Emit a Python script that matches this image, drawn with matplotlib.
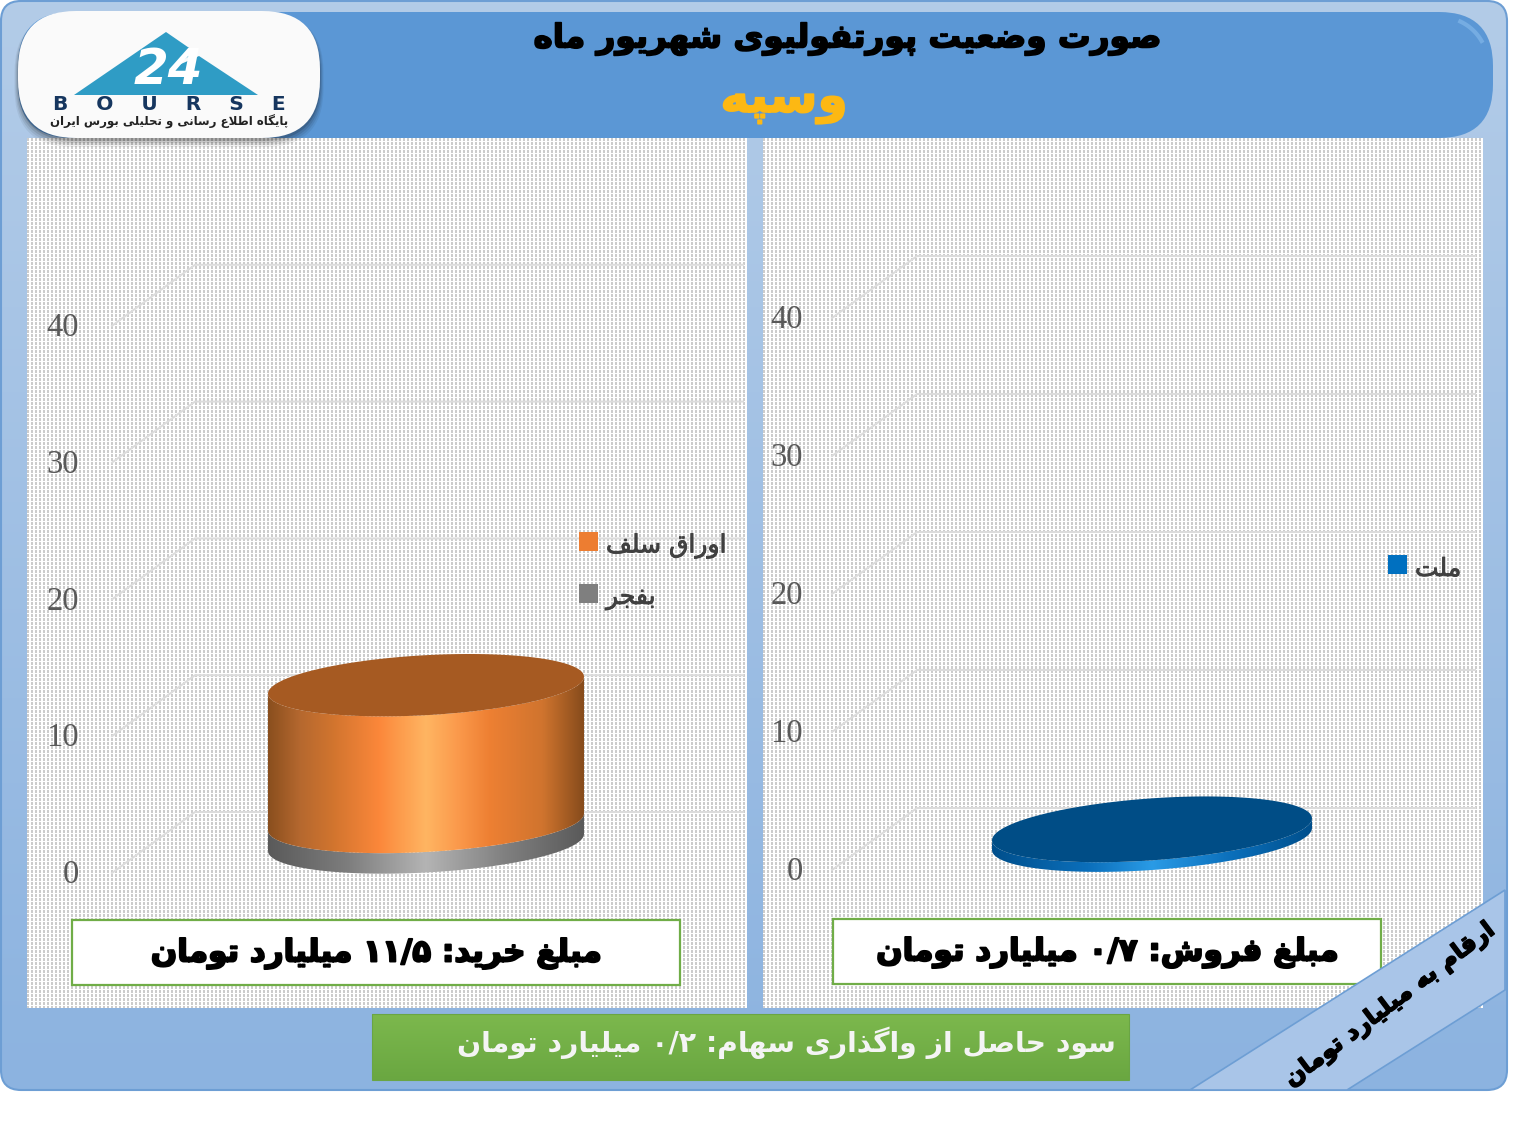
#!/usr/bin/env python3
"""Portfolio status slide: two stacked 3D cylinders (buy / sell) with Persian captions."""

import re

import matplotlib
matplotlib.use("Agg")
import matplotlib.patheffects as pe
import matplotlib.pyplot as plt
import numpy as np
from matplotlib.colors import LinearSegmentedColormap
from matplotlib.patches import FancyBboxPatch, Polygon, Rectangle

W, H = 1532, 1124

TICKS = [0, 10, 20, 30, 40]
BUY_LABELS = ["بفجر", "اوراق سلف"]
BUY_VALUES = [1.5, 10.0]
SELL_LABELS = ["ملت"]
SELL_VALUES = [0.7]

TITLE = "صورت وضعیت پورتفولیوی شهریور ماه"
FUND = "وسپه"
BUY_TEXT = "مبلغ خرید: ۱۱/۵ میلیارد تومان"
SELL_TEXT = "مبلغ فروش: ۰/۷ میلیارد تومان"
PROFIT_TEXT = "سود حاصل از واگذاری سهام: ۰/۲ میلیارد تومان"
UNIT_TEXT = "ارقام به میلیارد تومان"
LOGO_TEXT = "پایگاه اطلاع رسانی و تحلیلی بورس ایران"

# first presentation form of each letter: iso, fin, ini, med follow in order
JOINING = {
    "ب": 0xFE8F, "ت": 0xFE95, "ج": 0xFE9D, "ح": 0xFEA1, "خ": 0xFEA5, "س": 0xFEB1,
    "ش": 0xFEB5, "ص": 0xFEB9, "ض": 0xFEBD, "ط": 0xFEC1, "ع": 0xFEC9, "غ": 0xFECD,
    "ف": 0xFED1, "ق": 0xFED5, "ک": 0xFB8E, "ل": 0xFEDD, "م": 0xFEE1, "ن": 0xFEE5,
    "ه": 0xFEE9, "ی": 0xFBFC, "پ": 0xFB56, "گ": 0xFB92,
}
RIGHT_ONLY = {
    "ا": 0xFE8D, "د": 0xFEA9, "ذ": 0xFEAB, "ر": 0xFEAD, "ز": 0xFEAF, "و": 0xFEED,
}


def shape(text):
    """Join Persian letters and return them in visual order (matplotlib does neither)."""
    out = []
    i = 0
    prev_joins = False
    while i < len(text):
        c = text[i]
        nxt = text[i + 1] if i + 1 < len(text) else ""
        if c == "ل" and nxt == "ا":
            out.append(chr(0xFEFC if prev_joins else 0xFEFB))
            prev_joins = False
            i += 2
            continue
        if c in JOINING:
            joins_next = nxt in JOINING or nxt in RIGHT_ONLY
            form = {(False, False): 0, (True, False): 1, (False, True): 2, (True, True): 3}[
                (prev_joins, joins_next)]
            out.append(chr(JOINING[c] + form))
            prev_joins = joins_next
        elif c in RIGHT_ONLY:
            out.append(chr(RIGHT_ONLY[c] + (1 if prev_joins else 0)))
            prev_joins = False
        else:
            out.append(c)
            prev_joins = False
        i += 1
    visual = "".join(out)[::-1]
    # numbers keep their left-to-right order
    return re.sub(r"[۰-۹/]+", lambda m: m.group(0)[::-1], visual)


ORANGE = LinearSegmentedColormap.from_list("orange", [
    (0, "#8a4f1e"), (0.1, "#b5682f"), (0.2, "#d0742e"), (0.35, "#fb873a"), (0.5, "#ffb562"),
    (0.6, "#fb9a4c"), (0.7, "#ee8033"), (0.87, "#d0742e"), (1, "#874c1c")])
GREY = LinearSegmentedColormap.from_list("grey", [
    (0, "#5a5a5a"), (0.25, "#7d7d7d"), (0.5, "#b4b4b4"), (0.75, "#808080"), (1, "#5a5a5a")])
BLUE = LinearSegmentedColormap.from_list("blue", [
    (0, "#004f8c"), (0.3, "#0b6fbb"), (0.5, "#2a9be6"), (0.75, "#0b6fbb"), (1, "#004f8c")])


def cylinder(ax, cx, a, b, k, v0, v1, cmap, top=None):
    t = np.linspace(0, np.pi, 80)
    x = cx + a * np.cos(t)
    low = v0 + k * np.cos(t) - b * np.sin(t)
    up = v1 + k * np.cos(t) - b * np.sin(t)
    side = Polygon(np.r_[np.c_[x, low], np.c_[x, up][::-1]], closed=True,
                   transform=ax.transData, fc="none", ec="none")
    ax.add_patch(side)
    grad = np.linspace(0, 1, 256)[None, :]
    im = ax.imshow(grad, cmap=cmap, aspect="auto", zorder=3,
                   extent=(cx - a, cx + a, v0 - 2 * b, v1 + 2 * b))
    im.set_clip_path(side)
    if top:
        tt = np.linspace(0, 2 * np.pi, 160)
        ax.add_patch(Polygon(np.c_[cx + a * np.cos(tt), v1 + k * np.cos(tt) - b * np.sin(tt)],
                             closed=True, fc=top, ec="none", zorder=4))


def panel(rect, y0, px_per_unit, x_front, x_back, x_end, tick_x, tick_dy, depth):
    """Chart axes over a pixel rectangle: x stays in pixels, y is in billions of tomans."""
    left, top, right, bottom = rect
    ax = fig.add_axes([left / W, 1 - bottom / H, (right - left) / W, (bottom - top) / H])
    ax.set_xlim(left, right)
    ax.set_ylim((y0 - bottom) / px_per_unit, (y0 - top) / px_per_unit)
    ax.axis("off")
    ax.patch.set_alpha(0)
    d = depth / px_per_unit
    for v in TICKS:
        ax.plot([x_front, x_back, x_end], [v - d, v + d, v + d], color="#dcdcdc", lw=1.4,
                solid_joinstyle="miter", zorder=2)
        ax.text(tick_x, v - d - tick_dy / px_per_unit, str(v), ha="right", va="center",
                family="Liberation Serif", fontsize=23.5, color="#595959", zorder=2)
    ax.set_xlim(left, right)
    ax.set_ylim((y0 - bottom) / px_per_unit, (y0 - top) / px_per_unit)
    return ax


def heavy(width):
    return [pe.withStroke(linewidth=width, foreground="black")]


fig = plt.figure(figsize=(W / 100, H / 100), dpi=100, facecolor="white")

# background layer
bg = fig.add_axes([0, 0, 1, 1])
bg.set_xlim(0, W)
bg.set_ylim(H, 0)
bg.axis("off")

frame = FancyBboxPatch((1, 1), 1506, 1089, boxstyle="round,pad=0,rounding_size=20",
                       fc="none", ec="#6d9ed4", lw=1.5, zorder=2)
bg.add_patch(frame)
shade = bg.imshow(np.linspace(0, 1, 256)[:, None],
                  cmap=LinearSegmentedColormap.from_list("frame", ["#b3cce8", "#8cb3e0"]),
                  extent=(0, 1508, 1090, 0), aspect="auto", zorder=1)
shade.set_clip_path(frame)

yy, xx = np.mgrid[0:870, 0:720]
dots = 1.0 - 0.2 * ((xx % 4 < 2) & (yy % 4 != 3))
for px0, px1 in [(27, 747), (763, 1483)]:
    bg.imshow(dots, cmap="gray", vmin=0, vmax=1, interpolation="nearest",
              extent=(px0, px1, 1008, 138), aspect="auto", zorder=3)
bg.set_xlim(0, W)
bg.set_ylim(H, 0)

# buy chart
buy = panel((27, 138, 747, 1008), 842.5, 13.68, 112, 195, 743, 79, 2, 30.5)
base = 0.0
for i, (val, cmap) in enumerate(zip(BUY_VALUES, [GREY, ORANGE])):
    cylinder(buy, 426, 158, 30 / 13.68, 8.5 / 13.68, base, base + val, cmap,
             "#a65a22" if i == len(BUY_VALUES) - 1 else None)
    base += val

# sell chart
sell = panel((763, 138, 1483, 1008), 839, 13.8, 832, 917, 1475, 803, 2, 31)
cylinder(sell, 1152, 160, 31 / 13.8, 11 / 13.8, 0, SELL_VALUES[0], BLUE, "#004d86")

# overlay layer
top = fig.add_axes([0, 0, 1, 1])
top.set_xlim(0, W)
top.set_ylim(H, 0)
top.axis("off")
top.patch.set_alpha(0)

TXT = dict(family="DejaVu Sans", fontweight="bold", ha="center", va="center")

top.add_patch(FancyBboxPatch((18, 12), 1475, 126, boxstyle="round,pad=0,rounding_size=54",
                             fc="#5b97d5", ec="none"))
arc = np.radians(np.linspace(-65, -30, 30))
top.plot(1440 + 48 * np.cos(arc), 65 + 48 * np.sin(arc), color="#8fc2f0", lw=3, alpha=0.5)
top.text(848, 39, shape(TITLE), fontsize=23.5, color="black", path_effects=heavy(1.2), **TXT)
top.text(784, 100, shape(FUND), fontsize=35, color="#fdb813",
         path_effects=[pe.withStroke(linewidth=1.2, foreground="#fdb813")], **TXT)

# logo
for grow, alpha in [(7, 0.06), (5, 0.08), (3, 0.1), (1, 0.14)]:
    top.add_patch(FancyBboxPatch((18 - grow / 2, 14), 302 + grow, 126 + grow,
                                 boxstyle="round,pad=0,rounding_size=58",
                                 fc="black", ec="none", alpha=alpha))
top.add_patch(FancyBboxPatch((18, 11), 302, 127, boxstyle="round,pad=0,rounding_size=58",
                             fc="#fafafa", ec="none"))
top.add_patch(Polygon([(74, 95), (166, 32), (195, 52), (172, 68), (199, 56), (258, 95)],
                      closed=True, fc="#2f9cc5", ec="none"))
top.text(168, 70, "24", family="DejaVu Sans", fontweight="bold", fontstyle="italic",
         fontsize=36, color="white", ha="center", va="center")
top.text(169, 105, "B    O    U    R    S    E", family="DejaVu Sans", fontweight="bold",
         fontsize=14.5, color="#16365f", ha="center", va="center")
top.text(169, 122, shape(LOGO_TEXT), fontsize=8.5, color="#222222", **TXT)

# legends
for x, y, col, label in [(588, 541, "#ed7d31", BUY_LABELS[1]),
                         (588, 593, "#7f7f7f", BUY_LABELS[0]),
                         (1397, 564, "#0070c0", SELL_LABELS[0])]:
    top.add_patch(Rectangle((x - 9.5, y - 9.5), 19, 19, fc=col, ec="none"))
    top.text(x + 18, y + 5, shape(label), fontsize=18, color="#404040", family="DejaVu Sans",
             ha="left", va="center",
             path_effects=[pe.withStroke(linewidth=0.6, foreground="#404040")])

# caption boxes
for x0, x1, y0, y1, label, cx in [(72, 680, 920, 985, BUY_TEXT, 377),
                                  (833, 1381, 919, 984, SELL_TEXT, 1108)]:
    top.add_patch(Rectangle((x0, y0), x1 - x0, y1 - y0, fc="white", ec="#70ad47", lw=1.6))
    top.text(cx, (y0 + y1) / 2 + 1, shape(label), fontsize=22.3, color="black",
             path_effects=heavy(1.4), **TXT)

green = Rectangle((372, 1014), 757, 66, fc="none", ec="#6aa544", lw=0.8, zorder=5)
top.add_patch(green)
gr = top.imshow(np.linspace(0, 1, 64)[:, None], aspect="auto", zorder=4,
                cmap=LinearSegmentedColormap.from_list("g", ["#7cb84d", "#6aa741"]),
                extent=(372, 1129, 1080, 1014))
gr.set_clip_path(green)
top.set_xlim(0, W)
top.set_ylim(H, 0)
top.text(786, 1043, shape(PROFIT_TEXT), fontsize=20.3, color="#f4f4f4", zorder=6, **TXT)

# corner ribbon
top.add_patch(Polygon([(1190, 1090), (1505, 890), (1505, 990), (1347, 1090)], closed=True,
                      fc="#a9c5e8", ec="#6d9ed4", lw=1.2, zorder=6))
top.text(1390, 1005, shape(UNIT_TEXT), fontsize=17, color="black", rotation=37,
         rotation_mode="anchor", zorder=7, path_effects=heavy(1.1), **TXT)

fig.savefig("out.png", dpi=100)
plt.close(fig)
